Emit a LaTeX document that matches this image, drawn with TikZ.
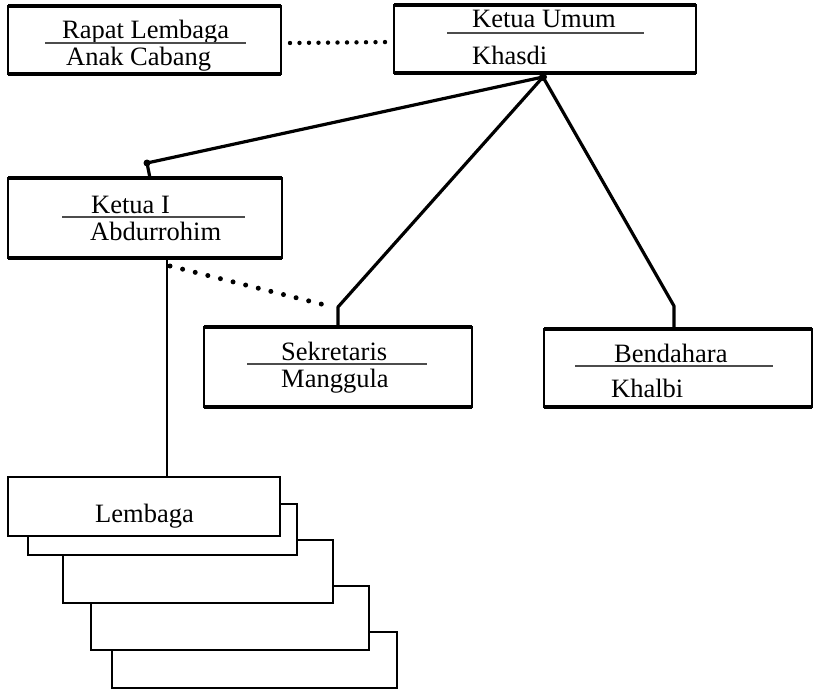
\documentclass[tikz,border=0pt]{standalone}
\usepackage{fontspec}
\setmainfont{Liberation Serif}
\usetikzlibrary{calc}
\newcommand\heavyedges[1]{\draw[line width=3.4pt] (#1.north west) -- (#1.north east) (#1.south west) -- (#1.south east);}
\begin{document}
\begin{tikzpicture}[x=1pt,y=-1pt,
  frame/.style={draw, line width=2.3pt, fill=white, inner sep=0pt, outer sep=0pt, anchor=north west},
  stack/.style={draw, line width=2.4pt, fill=white, inner sep=0pt, outer sep=0pt, anchor=north west},
  txt/.style={font=\fontsize{26.5}{26.5}\selectfont, inner sep=0pt, anchor=base west},
  rule/.style={line width=1.1pt, draw=black!70},
  conn/.style={line width=3.2pt, line cap=round, line join=round},
  dots/.style={line width=5pt, line cap=round, dash pattern=on 0pt off 13pt},
  knot/.style={circle, fill=black, inner sep=0pt, minimum size=7pt}
]
\useasboundingbox (0,0) rectangle (816,693);

% --- committee boxes ---
\node[frame, minimum width=273pt, minimum height=68pt] (rapat)      at (8,6)    {};
\node[frame, minimum width=302pt, minimum height=68pt] (ketuaumum)  at (394,5)  {};
\node[frame, minimum width=274pt, minimum height=80pt] (ketua1)     at (8,178)  {};
\node[frame, minimum width=268pt, minimum height=80pt] (sekretaris) at (204,327) {};
\node[frame, minimum width=268pt, minimum height=78pt] (bendahara)  at (544,329) {};
\foreach \b in {rapat,ketuaumum,ketua1,sekretaris,bendahara} {\heavyedges{\b}}

% --- stacked Lembaga sheets, back to front ---
\node[stack, minimum width=285pt, minimum height=56pt] (sheet5)  at (112,632) {};
\node[stack, minimum width=278pt, minimum height=64pt] (sheet4)  at (91,586)  {};
\node[stack, minimum width=270pt, minimum height=63pt] (sheet3)  at (63,540)  {};
\node[stack, minimum width=269pt, minimum height=51pt] (sheet2)  at (28,504)  {};
\node[stack, minimum width=272pt, minimum height=59pt] (lembaga) at (8,477)   {};

% --- labels ---
\node[txt] (t-rapat) at (62,38)  {Rapat Lembaga};
\draw[rule] (45,43) -- (246,43);
\node[txt] (t-anak)  at (66,66)  {Anak Cabang};

\node[txt] (t-ketuaumum) at (472,28) {Ketua Umum};
\draw[rule] (447,33) -- (644,33);
\node[txt] (t-khasdi)    at (472,65) {Khasdi};

\node[txt] (t-ketua1) at (91,213) {Ketua I};
\draw[rule] (62,217) -- (245,217);
\node[txt] (t-abdur)  at (90,240) {Abdurrohim};

\node[txt] (t-sekr) at (281,360) {Sekretaris};
\draw[rule] (247,364) -- (427,364);
\node[txt] (t-mang) at (281,387) {Manggula};

\node[txt] (t-bend)   at (614,362) {Bendahara};
\draw[rule] (575,366) -- (773,366);
\node[txt] (t-khalbi) at (611,397) {Khalbi};

\node[txt] (t-lembaga) at (95,522) {Lembaga};

% --- connectors ---
\coordinate (hub)    at (543,77);
\coordinate (k1knee) at (147,163);
\coordinate (sknee)  at (338,307);
\coordinate (bknee)  at (674,306);
\coordinate (vx)     at (167,0);
\coordinate (dstart) at (170,266);
\coordinate (dend)   at (325,305);

\draw[conn] (hub) -- (k1knee) -- ($(ketua1.north west)+(142,0)$);
\node[knot] (k1dot) at (k1knee) {};
\draw[conn] (hub) -- (sknee) -- (sknee |- sekretaris.north);
\draw[conn] (hub) -- (bknee) -- (bknee |- bendahara.north);
\node[knot, minimum size=8pt] (hubdot) at (hub) {};

\draw[line width=2.6pt] (ketua1.south -| vx) -- (lembaga.north -| vx);

\draw[dots] (dstart) -- (dend);
\draw[dots, line width=4.4pt, dash pattern=on 0pt off 9.5pt] ($(rapat.east)+(9,3)$) -- ($(ketuaumum.west)+(-2,3)$);
\end{tikzpicture}
\end{document}
